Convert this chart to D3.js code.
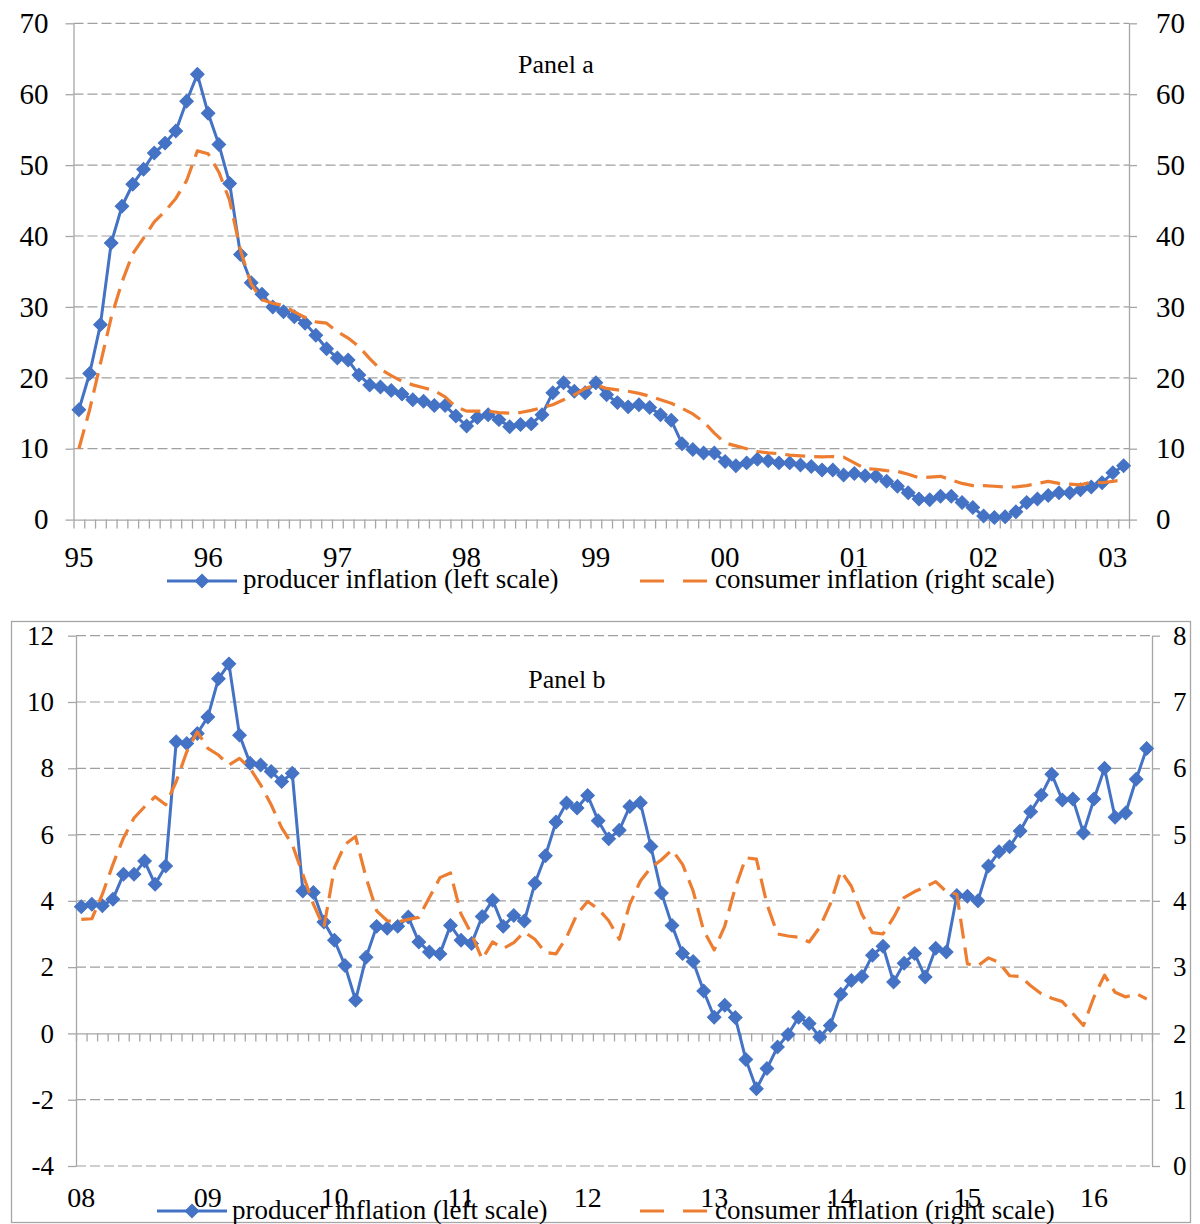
<!DOCTYPE html>
<html><head><meta charset="utf-8">
<script src="https://cdn.jsdelivr.net/npm/d3@7"></script>
<style>
body{margin:0;background:#fff}
svg{display:block}
text{font-family:"Liberation Serif","Times New Roman",serif;fill:#000}
</style>
</head><body>
<svg id="c" width="1200" height="1224"></svg>
<script>
// ---------------- DATA ----------------
// Panel a: monthly, Jan 1995 .. Feb 2003
const yearLabelsA = ["95","96","97","98","99","00","01","02","03"];
const producerA = [15.5,20.6,27.5,39.0,44.2,47.3,49.4,51.7,53.1,54.8,59.0,62.8,
  57.3,52.9,47.4,37.4,33.4,31.8,30.0,29.3,28.6,27.7,26.0,24.1,
  22.8,22.5,20.4,19.0,18.7,18.2,17.7,16.9,16.7,16.1,16.1,14.6,
  13.2,14.4,14.8,14.1,13.1,13.4,13.5,14.8,17.9,19.3,18.1,17.9,
  19.3,17.6,16.5,15.9,16.2,15.8,14.8,14.0,10.7,9.9,9.4,9.4,
  8.2,7.6,8.0,8.5,8.3,8.0,8.0,7.7,7.5,7.0,7.0,6.3,
  6.5,6.2,6.1,5.4,4.7,3.8,2.9,2.8,3.3,3.3,2.4,1.7,
  0.5,0.3,0.4,1.1,2.4,2.9,3.4,3.8,3.8,4.2,4.6,5.2,
  6.6,7.6];
const consumerA = [10.0,15.5,22.0,28.5,33.5,37.5,39.7,42.0,43.5,45.3,47.8,52.0,
  51.6,49.0,45.0,38.0,33.2,31.0,30.5,30.2,29.3,28.5,27.9,27.7,
  26.5,25.6,24.4,22.7,21.2,20.3,19.5,19.0,18.6,18.2,17.3,15.9,
  15.3,15.3,15.3,15.1,15.0,15.1,15.4,15.8,16.2,16.9,17.6,18.5,
  19.0,18.5,18.3,18.1,17.8,17.4,16.9,16.4,15.7,14.9,13.8,12.2,
  10.8,10.4,10.0,9.6,9.4,9.3,9.1,9.0,8.9,8.85,8.9,8.8,
  8.0,7.2,7.1,6.9,6.8,6.4,5.9,6.0,6.1,5.6,5.1,4.8,
  4.8,4.7,4.6,4.6,4.8,5.1,5.4,5.1,5.0,4.9,5.3,5.2,
  5.4,5.6];
const yTicksA = [0,10,20,30,40,50,60,70];

// Panel b: monthly, Jan 2008 .. Jun 2016
const yearLabelsB = ["08","09","10","11","12","13","14","15","16"];
const producerB = [3.82,3.9,3.85,4.05,4.8,4.8,5.2,4.5,5.05,8.8,8.75,9.05,
  9.55,10.7,11.15,9.0,8.15,8.1,7.9,7.6,7.85,4.3,4.25,3.36,
  2.81,2.05,1.0,2.3,3.23,3.17,3.23,3.51,2.76,2.46,2.4,3.26,
  2.81,2.71,3.53,4.02,3.23,3.56,3.39,4.53,5.36,6.38,6.95,6.8,
  7.18,6.42,5.87,6.13,6.85,6.96,5.64,4.24,3.26,2.41,2.17,1.28,
  0.49,0.85,0.48,-0.79,-1.67,-1.06,-0.41,-0.03,0.49,0.3,-0.11,0.24,
  1.18,1.6,1.72,2.36,2.63,1.55,2.12,2.41,1.7,2.57,2.46,4.16,
  4.14,4.0,5.05,5.48,5.63,6.11,6.69,7.19,7.82,7.04,7.07,6.05,
  7.07,8.0,6.52,6.65,7.67,8.6];
const consumerB = [3.72,3.73,4.1,4.55,4.95,5.25,5.42,5.57,5.45,5.8,6.25,6.55,
  6.3,6.2,6.05,6.15,6.0,5.75,5.45,5.1,4.85,4.4,3.95,3.6,
  4.5,4.85,4.97,4.35,3.85,3.7,3.68,3.72,3.75,4.05,4.35,4.42,
  3.8,3.5,3.12,3.38,3.28,3.37,3.53,3.42,3.22,3.2,3.45,3.8,
  3.99,3.88,3.7,3.42,3.95,4.3,4.5,4.62,4.77,4.55,4.15,3.55,
  3.26,3.62,4.2,4.65,4.63,3.95,3.5,3.47,3.45,3.38,3.6,3.95,
  4.45,4.22,3.8,3.52,3.5,3.75,4.05,4.14,4.21,4.29,4.14,4.1,
  3.05,3.02,3.14,3.07,2.87,2.86,2.72,2.6,2.53,2.48,2.3,2.12,
  2.55,2.88,2.62,2.55,2.6,2.52];
const yTicksLeftB = [-4,-2,0,2,4,6,8,10,12];
const yTicksRightB = [0,1,2,3,4,5,6,7,8];

const seriesNames = ["producer inflation (left scale)", "consumer inflation (right scale)"];
const panelTitles = ["Panel a", "Panel b"];

// ---------------- STYLE ----------------
const BLUE = "#4472C4", ORANGE = "#ED7D31", AXIS = "#a6a6a6", GRID = "#a0a0a0";
const svg = d3.select("#c");
const fmt = d => String(d); // plain hyphen-minus like the original

function drawPanel(o) {
  const g = svg.append("g");
  const n = o.prod.length;
  const xLin = d3.scaleLinear().domain([0, n]).range([o.x0, o.x1]);
  const xc = i => xLin(i + 0.5);
  const yL = d3.scaleLinear().domain(o.leftDomain).range([o.yBot, o.yTop]);
  const yR = d3.scaleLinear().domain(o.rightDomain).range([o.yBot, o.yTop]);

  // gridlines (dashed) except zero line
  g.append("g").selectAll("line").data(o.leftTicks.filter(v => v !== 0)).join("line")
    .attr("x1", o.x0).attr("x2", o.x1)
    .attr("y1", d => yL(d)).attr("y2", d => yL(d))
    .attr("stroke", GRID).attr("stroke-width", 1.2).attr("stroke-dasharray", "10,4");

  const la = g.append("g").attr("transform", `translate(${o.x0},0)`)
    .call(d3.axisLeft(yL).tickValues(o.leftTicks).tickSize(8).tickSizeOuter(0).tickPadding(o.padL).tickFormat(fmt));
  const ra = g.append("g").attr("transform", `translate(${o.x1},0)`)
    .call(d3.axisRight(yR).tickValues(o.rightTicks).tickSize(8).tickSizeOuter(0).tickPadding(o.padR).tickFormat(fmt));
  [la, ra].forEach(a => {
    a.select(".domain").attr("stroke", AXIS).attr("stroke-width", 1.3);
    a.selectAll(".tick line").attr("stroke", AXIS).attr("stroke-width", 1.3);
    a.selectAll(".tick text").attr("font-size", o.tickFont).attr("fill", "#000")
      .style("font-family", '"Liberation Serif", "Times New Roman", serif');
  });
  const xa = g.append("g").attr("transform", `translate(0,${yL(0)})`)
    .call(d3.axisBottom(xLin).tickValues(d3.range(n + 1)).tickSize(o.xTick).tickSizeOuter(0).tickFormat(""));
  xa.select(".domain").attr("stroke", AXIS).attr("stroke-width", 1.3);
  xa.selectAll(".tick line").attr("stroke", AXIS).attr("stroke-width", 1.3);

  // year labels
  g.append("g").selectAll("text").data(o.years).join("text")
    .attr("x", (d, k) => xc(k * 12)).attr("y", o.yearY)
    .attr("text-anchor", "middle").attr("font-size", o.yearFont).text(d => d);

  // title
  g.append("text").attr("x", o.titleX).attr("y", o.titleY).attr("text-anchor", "middle")
    .attr("font-size", o.titleFont).text(o.title);

  // producer line + diamonds
  const lineL = d3.line().x((d, i) => xc(i)).y(d => yL(d));
  g.append("path").datum(o.prod).attr("d", lineL).attr("fill", "none")
    .attr("stroke", BLUE).attr("stroke-width", 3).attr("stroke-linejoin", "round");
  const diamond = d3.symbol().type(d3.symbolSquare).size(92)();
  g.append("g").selectAll("path").data(o.prod).join("path")
    .attr("d", diamond)
    .attr("transform", (d, i) => `translate(${xc(i)},${yL(d)}) rotate(45)`)
    .attr("fill", BLUE).attr("stroke", BLUE).attr("stroke-width", 1);

  // consumer line (right scale)
  const lineR = d3.line().x((d, i) => xc(i)).y(d => yR(d));
  g.append("path").datum(o.cons).attr("d", lineR).attr("fill", "none")
    .attr("stroke", ORANGE).attr("stroke-width", 3.2).attr("stroke-dasharray", "20,9")
    .attr("stroke-linejoin", "round");

  // legend
  const L = o.legend;
  g.append("line").attr("x1", L.b0).attr("x2", L.b1).attr("y1", L.y).attr("y2", L.y)
    .attr("stroke", BLUE).attr("stroke-width", 3);
  g.append("path").attr("d", diamond).attr("transform", `translate(${(L.b0 + L.b1) / 2},${L.y}) rotate(45)`)
    .attr("fill", BLUE).attr("stroke", BLUE);
  g.append("text").attr("x", L.bt).attr("y", L.ty).attr("font-size", o.legFont).text(seriesNames[0]);
  g.append("line").attr("x1", L.o0).attr("x2", L.o1).attr("y1", L.y).attr("y2", L.y)
    .attr("stroke", ORANGE).attr("stroke-width", 3.2).attr("stroke-dasharray", "24,19");
  g.append("text").attr("x", L.ot).attr("y", L.ty).attr("font-size", o.legFont).text(seriesNames[1]);
}

// panel b border
svg.append("rect").attr("x", 11.5).attr("y", 621.5).attr("width", 1179).attr("height", 601)
  .attr("fill", "none").attr("stroke", AXIS).attr("stroke-width", 1.3);

drawPanel({
  prod: producerA, cons: consumerA, years: yearLabelsA, title: panelTitles[0],
  x0: 73.5, x1: 1129, yTop: 23.3, yBot: 519.6,
  leftDomain: [0, 70], rightDomain: [0, 70], leftTicks: yTicksA, rightTicks: yTicksA,
  padL: 17, padR: 19, tickFont: 29, xTick: 9, yearY: 567, yearFont: 29,
  titleX: 556, titleY: 73, titleFont: 26, legFont: 27,
  legend: { y: 581, b0: 167, b1: 237, bt: 243, o0: 640, o1: 709, ot: 715, ty: 588 }
});

drawPanel({
  prod: producerB, cons: consumerB, years: yearLabelsB, title: panelTitles[1],
  x0: 76, x1: 1152, yTop: 635.7, yBot: 1166,
  leftDomain: [-4, 12], rightDomain: [0, 8], leftTicks: yTicksLeftB, rightTicks: yTicksRightB,
  padL: 14, padR: 13, tickFont: 27, xTick: 8, yearY: 1207, yearFont: 28,
  titleX: 567, titleY: 688, titleFont: 26, legFont: 27,
  legend: { y: 1211, b0: 157, b1: 227, bt: 232, o0: 640, o1: 709, ot: 715, ty: 1219 }
});
</script>
</body></html>
